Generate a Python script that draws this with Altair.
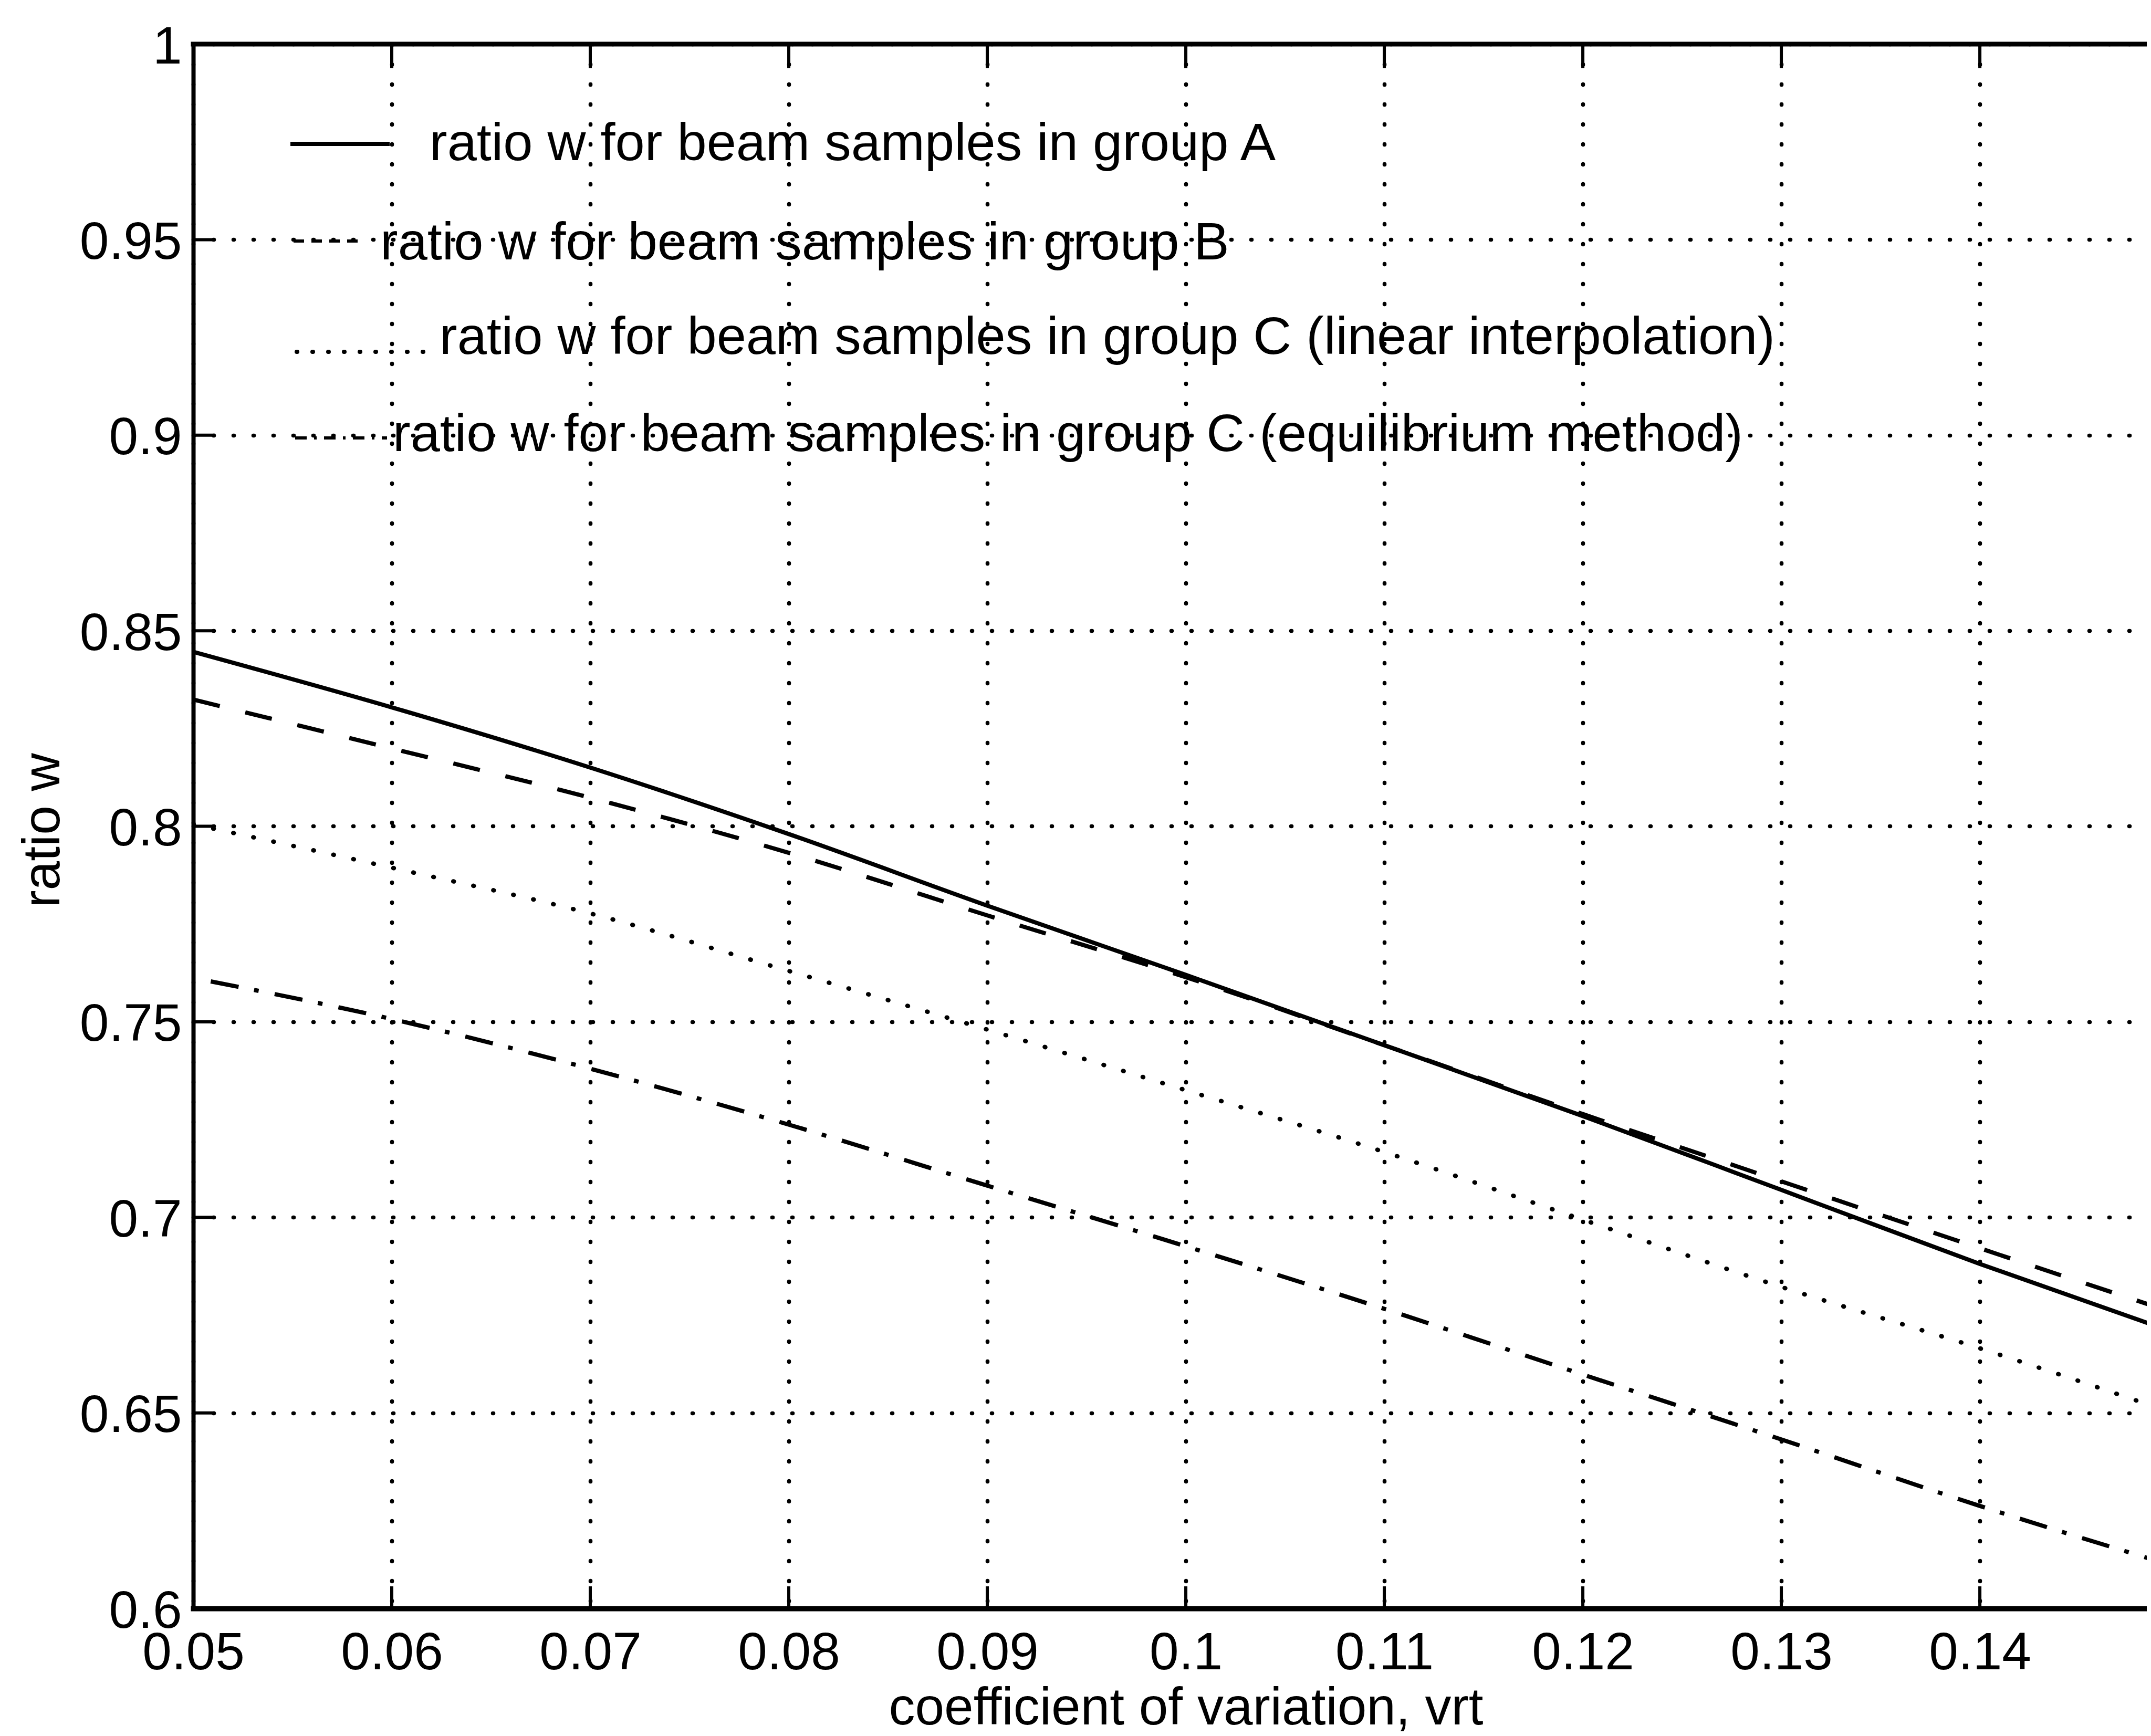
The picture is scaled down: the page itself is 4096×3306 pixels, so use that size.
import altair as alt
import pandas as pd

# ---------------- data ----------------
cv = [0.05, 0.06, 0.07, 0.08, 0.09, 0.10, 0.11, 0.12, 0.13, 0.14, 0.15]
w_group_a = [0.8446, 0.8304, 0.8150, 0.7980, 0.7797, 0.7620, 0.7440, 0.7259, 0.7070, 0.6881, 0.6702]
w_group_b = [0.8324, 0.8199, 0.8073, 0.7932, 0.7772, 0.7614, 0.7440, 0.7264, 0.7092, 0.6921, 0.6752]
w_group_c_lin = [0.8005, 0.7894, 0.7777, 0.7630, 0.7480, 0.7325, 0.7167, 0.6994, 0.6822, 0.6665, 0.6495]
w_group_c_eq = [0.7612, 0.7507, 0.7380, 0.7237, 0.7081, 0.6926, 0.6766, 0.6598, 0.6432, 0.6262, 0.6105]

legend_labels = [
    "ratio w for beam samples in group A",
    "ratio w for beam samples in group B",
    "ratio w for beam samples in group C (linear interpolation)",
    "ratio w for beam samples in group C (equilibrium method)",
]
x_tick_values = [0.05, 0.06, 0.07, 0.08, 0.09, 0.10, 0.11, 0.12, 0.13, 0.14]
y_tick_values = [0.6, 0.65, 0.7, 0.75, 0.8, 0.85, 0.9, 0.95, 1.0]

# ---------------- layout / style ----------------
W, H = 3720, 2979
FONT = "Liberation Sans"
FS = 100
TICK = 42

x_scale = alt.Scale(domain=[0.05, 0.14841], nice=False, zero=False)
y_scale = alt.Scale(domain=[0.6, 1.0], nice=False, zero=False)

x_axis = alt.Axis(
    values=x_tick_values, format="~g", title="coefficient of variation, vrt",
    ticks=False, labelPadding=36, labelFontSize=FS, labelFont=FONT, labelColor="black",
    labelFlush=False, labelOverlap=False, labelLimit=0,
    domainColor="black", domainWidth=10, domainCap="square",
    grid=True, gridColor="black", gridDash=[1, 37], gridCap="round", gridWidth=7.5, gridOpacity=1,
    titleFont=FONT, titleFontSize=FS, titleFontWeight="normal", titleColor="black", titleLimit=0,
    titleX=1890, titleY=220, titleAlign="center", titleBaseline="alphabetic",
)
y_axis = alt.Axis(
    values=y_tick_values, format="~g", title="ratio w",
    ticks=False, labelPadding=22, labelFontSize=FS, labelFont=FONT, labelColor="black",
    labelFlush=False, labelOverlap=False, labelOffset=6, labelLimit=0,
    domainColor="black", domainWidth=8, domainCap="square",
    grid=True, gridColor="black", gridDash=[1, 37], gridCap="round", gridWidth=7.5, gridOpacity=1,
    titleFont=FONT, titleFontSize=FS, titleFontWeight="normal", titleColor="black", titleLimit=0,
    titleX=-256, titleY=1497, titleAngle=270, titleAlign="center", titleBaseline="alphabetic",
)

X = alt.X("cv:Q", scale=x_scale, axis=x_axis)
Y = alt.Y("w:Q", scale=y_scale, axis=y_axis)

series = [
    (w_group_a, dict(strokeWidth=8)),
    (w_group_b, dict(strokeWidth=8, strokeDash=[52, 50])),
    (w_group_c_lin, dict(strokeWidth=8.5, strokeDash=[1, 38], strokeCap="round")),
    (w_group_c_eq, dict(strokeWidth=8, strokeDash=[54, 30, 9, 31], strokeDashOffset=90)),
]

layers = []
for vals, style in series:
    df = pd.DataFrame({"cv": cv, "w": vals})
    layers.append(
        alt.Chart(df).mark_line(color="black", clip=True, interpolate="monotone", **style)
        .encode(x=X, y=Y)
    )

# inward ticks (MATLAB style box)
xt = pd.DataFrame({"cv": x_tick_values})
yt = pd.DataFrame({"w": y_tick_values})
layers.append(alt.Chart(xt).mark_rule(color="black", strokeWidth=6)
              .encode(x=X, y=alt.value(H), y2=alt.value(H - TICK)))
layers.append(alt.Chart(xt).mark_rule(color="black", strokeWidth=6)
              .encode(x=X, y=alt.value(0), y2=alt.value(TICK + 4)))
layers.append(alt.Chart(yt).mark_rule(color="black", strokeWidth=6)
              .encode(y=Y, x=alt.value(0), x2=alt.value(TICK)))
# top border of the box
layers.append(alt.Chart(pd.DataFrame({"k": [0]})).mark_rule(color="black", strokeWidth=9, strokeCap="square")
              .encode(y=alt.value(0), x=alt.value(0), x2=alt.value(W)))

# legend (drawn in the plot, as in the original)
legend_text_x = [450, 356, 469, 380]
legend_base_y = [221, 410, 590, 775]
sample_x = [(185, 374), (191, 318), (197, 440), (194, 369)]
sample_y = [190, 375, 586, 750]
sample_style = [
    dict(strokeWidth=8),
    dict(strokeWidth=6, strokeDash=[20, 14]),
    dict(strokeWidth=8, strokeDash=[1, 29], strokeCap="round"),
    dict(strokeWidth=6, strokeDash=[22, 14, 5, 14]),
]
for i, lab in enumerate(legend_labels):
    ldf = pd.DataFrame({"label": [lab]})
    layers.append(
        alt.Chart(ldf).mark_text(align="left", baseline="alphabetic", font=FONT, fontSize=101,
                                 color="black", limit=0)
        .encode(text="label:N", x=alt.value(legend_text_x[i]), y=alt.value(legend_base_y[i]))
    )
    layers.append(
        alt.Chart(ldf).mark_rule(color="black", **sample_style[i])
        .encode(x=alt.value(sample_x[i][0]), x2=alt.value(sample_x[i][1]), y=alt.value(sample_y[i]))
    )

chart = (
    alt.layer(*layers)
    .properties(width=W, height=H,
                autosize=alt.AutoSizeParams(type="none"),
                padding={"left": 360, "top": 76, "right": 0, "bottom": 240})
    .configure_view(stroke=None)
    .configure(background="white")
)

chart.save("out.html", embed_options={"renderer": "svg", "actions": False})
